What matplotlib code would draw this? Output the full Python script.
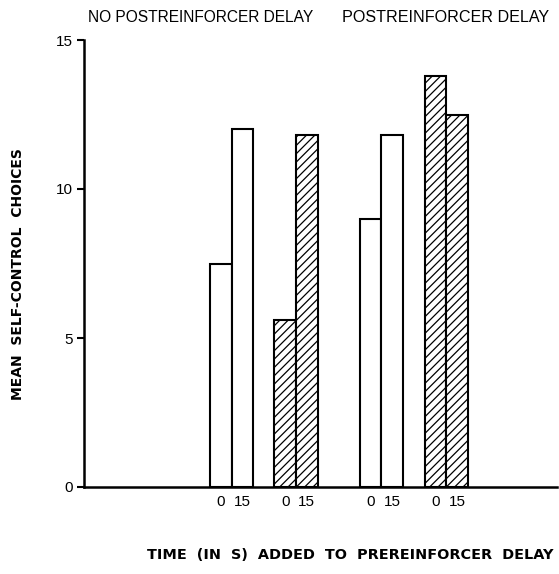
import matplotlib
matplotlib.use('Agg')
import matplotlib.pyplot as plt
import numpy as np

plt.rcParams['font.family'] = ['Liberation Sans', 'DejaVu Sans']
plt.rcParams['hatch.linewidth'] = 0.9

# data
conditions = ['NO POSTREINFORCER DELAY', 'POSTREINFORCER DELAY']
added_delay = ['0', '15']
# one pair of bars per group: [0 s, 15 s]
group_values = [
	[7.5, 12.0],   # no postreinforcer delay, open
	[5.6, 11.8],   # no postreinforcer delay, hatched
	[9.0, 11.8],   # postreinforcer delay, open
	[13.8, 12.5],  # postreinforcer delay, hatched
]
group_hatched = [False, True, False, True]

# layout (bar width = 1 unit)
group_centers = [6.8, 9.77, 13.7, 16.7]
width = 1.0

fig = plt.figure(figsize=(5.59, 5.74), dpi=100)
ax = fig.add_axes([84/559, (574-487)/574, (557-84)/559, (487-40)/574])

tick_pos = []
tick_lab = []
for center, vals, hatched in zip(group_centers, group_values, group_hatched):
	xs = [center - width/2, center + width/2]
	ax.bar(xs, vals, width=width, color='white', edgecolor='black', linewidth=1.5,
		hatch='////' if hatched else None)
	tick_pos += xs
	tick_lab += added_delay

ax.set_xlim(0, 21.8)
ax.set_ylim(0, 15)
ax.set_yticks([0, 5, 10, 15])
ax.set_xticks(tick_pos)
ax.set_xticklabels(tick_lab, fontsize=11)
ax.tick_params(axis='x', length=0, pad=6)
ax.tick_params(axis='y', length=5, width=1.5, labelsize=11, pad=3)
for s in ['top', 'right']:
	ax.spines[s].set_visible(False)
for s in ['left', 'bottom']:
	ax.spines[s].set_linewidth(1.8)

fig.text(88/559, 1 - 17/574, conditions[0], fontsize=11.2, va='center', ha='left')
fig.text(446/559, 1 - 17/574, conditions[1], fontsize=11.6, va='center', ha='center')

fig.text(18/559, 1 - 274/574, 'MEAN  SELF-CONTROL  CHOICES', rotation=90, fontsize=10,
	fontweight='bold', ha='center', va='center', family='DejaVu Sans')
fig.text(350/559, 1 - 555/574, 'TIME  (IN  S)  ADDED  TO  PREREINFORCER  DELAY', fontsize=10.4,
	fontweight='bold', ha='center', va='center', family='DejaVu Sans')

fig.savefig('out.png', dpi=100)
